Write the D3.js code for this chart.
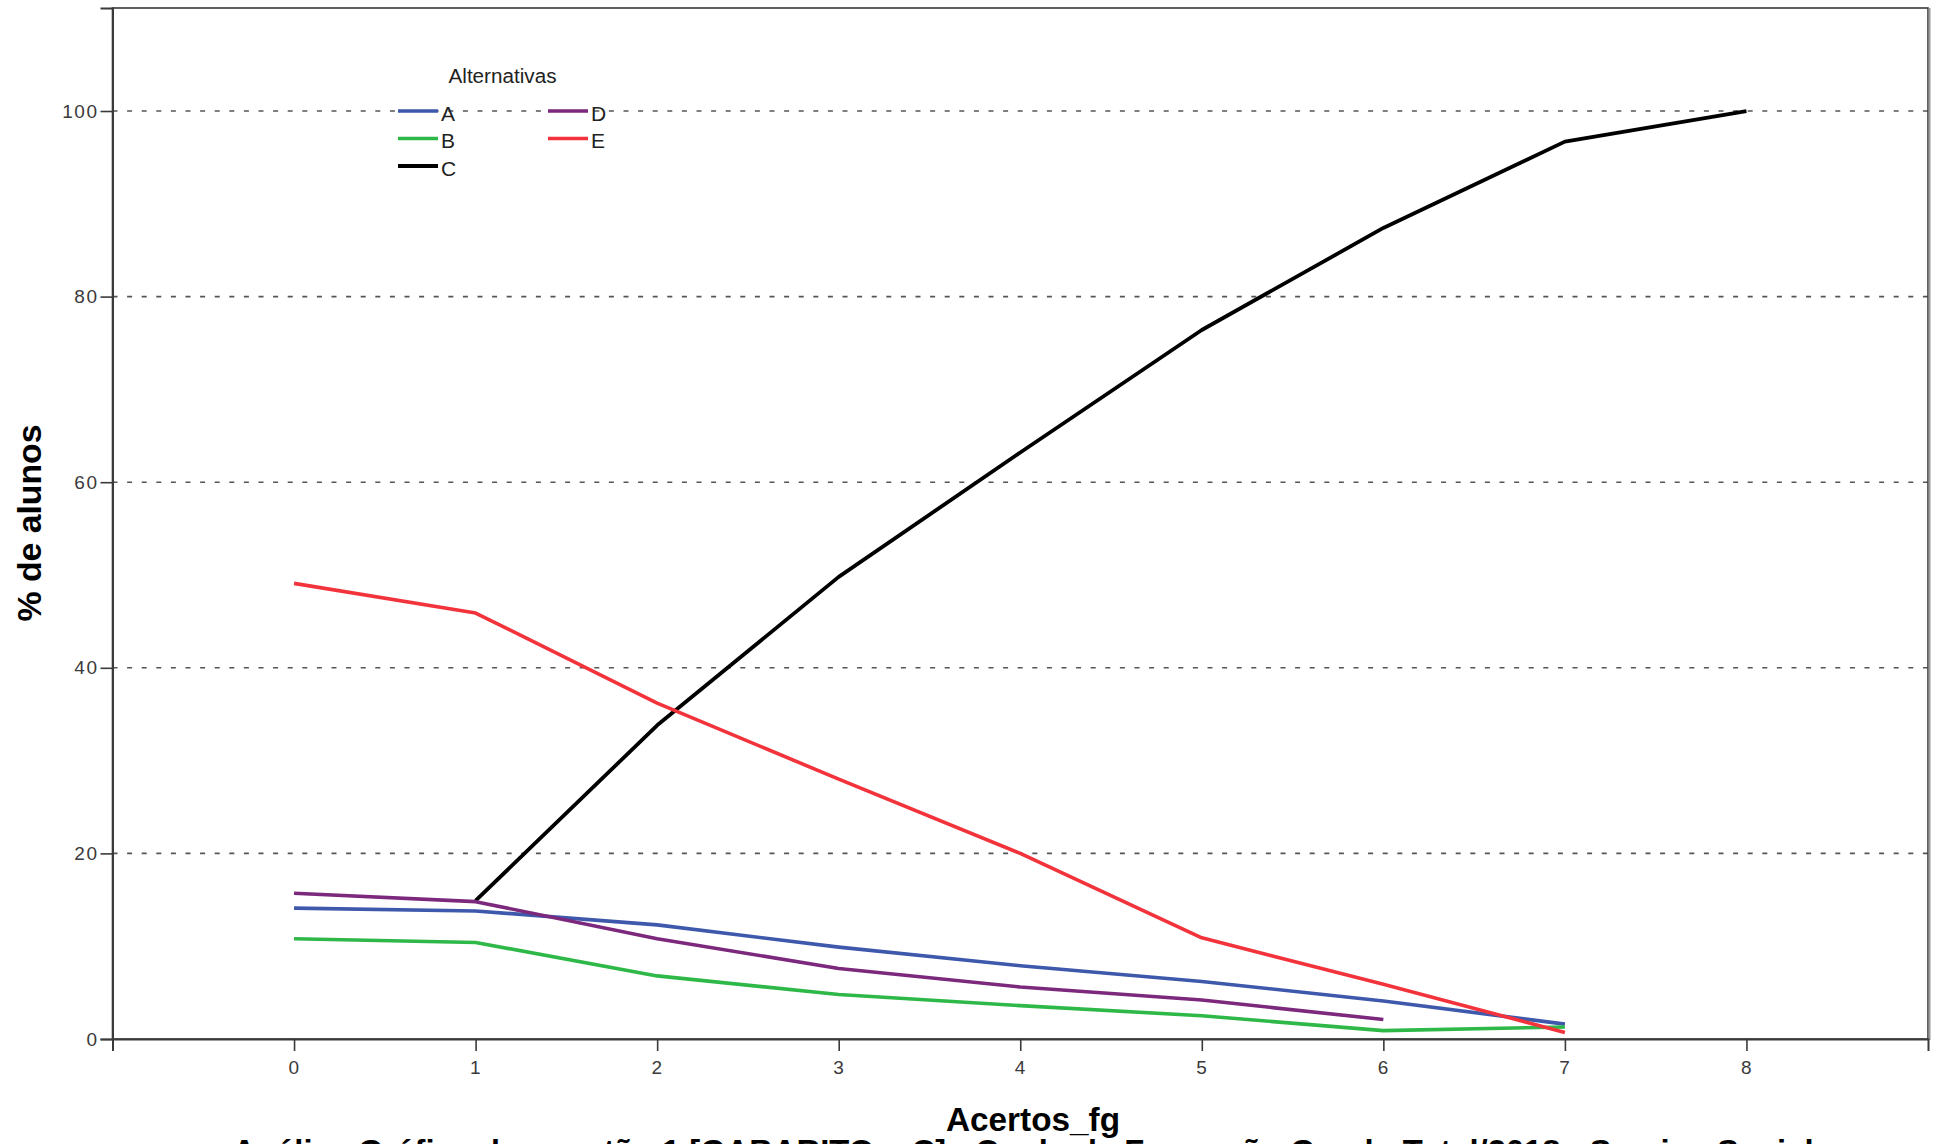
<!DOCTYPE html>
<html>
<head>
<meta charset="utf-8">
<script src="https://cdn.jsdelivr.net/npm/d3@7"></script>
<style>
  html, body { margin: 0; padding: 0; background: #fff; overflow: hidden; }
  svg { display: block; }
</style>
</head>
<body>
<svg id="chart" width="1942" height="1144"></svg>
<script>
// ---- data ----
const xTicks = [0, 1, 2, 3, 4, 5, 6, 7, 8];
const yTicks = [0, 20, 40, 60, 80, 100];
const gridValues = [20, 40, 60, 80, 100];

const xA = [0, 1, 2, 3, 4, 5, 6, 7];
const valuesA = [14.1, 13.8, 12.3, 9.9, 7.9, 6.2, 4.1, 1.6];
const xB = [0, 1, 2, 3, 4, 5, 6, 7];
const valuesB = [10.8, 10.4, 6.8, 4.8, 3.6, 2.5, 0.9, 1.3];
const xC = [1, 2, 3, 4, 5, 6, 7, 8];
const valuesC = [14.9, 33.8, 49.8, 63.2, 76.4, 87.4, 96.7, 100];
const xD = [0, 1, 2, 3, 4, 5, 6];
const valuesD = [15.7, 14.8, 10.8, 7.6, 5.6, 4.2, 2.1];
const xE = [0, 1, 2, 3, 4, 5, 6, 7];
const valuesE = [49.1, 45.9, 36.2, 28.0, 20.0, 10.9, 5.9, 0.7];

const seriesNames = ["A", "B", "C", "D", "E"];
const seriesColors = ["#3e58ac", "#2eb848", "#000000", "#7c287d", "#f2333b"];

const legendTitle = "Alternativas";
const xTitle = "Acertos_fg";
const yTitle = "% de alunos";
const bottomTitle = "Análise Gráfica da questão 1 [GABARITO = C] - Conh. de Formação Geral - Total/2018 - Serviço Social";

// ---- layout ----
const L = 112.5, R = 1928, T = 8, B = 1039;
const svg = d3.select("#chart");
const x = d3.scaleLinear().domain([-1, 9]).range([L, R]);
const y = d3.scaleLinear().domain([0, 111.1]).range([B, T]);

const series = [
  { name: seriesNames[0], xs: xA, vs: valuesA, color: seriesColors[0] },
  { name: seriesNames[1], xs: xB, vs: valuesB, color: seriesColors[1] },
  { name: seriesNames[2], xs: xC, vs: valuesC, color: seriesColors[2] },
  { name: seriesNames[3], xs: xD, vs: valuesD, color: seriesColors[3] },
  { name: seriesNames[4], xs: xE, vs: valuesE, color: seriesColors[4] }
];

// gridlines
svg.append("g").selectAll("line").data(gridValues).join("line")
  .attr("x1", L).attr("x2", R)
  .attr("y1", d => y(d)).attr("y2", d => y(d))
  .attr("stroke", "#555").attr("stroke-width", 1.6)
  .attr("stroke-dasharray", "5,9.6");

// frame
svg.append("rect").attr("x", L).attr("y", T).attr("width", R - L).attr("height", B - T)
  .attr("fill", "none").attr("stroke", "#3a3a3a").attr("stroke-width", 1.6);
svg.append("line").attr("x1", R + 1.5).attr("x2", R + 1.5).attr("y1", T).attr("y2", B + 1)
  .attr("stroke", "#999").attr("stroke-width", 2);

// axes
const fontTick = "'Liberation Sans', Arial, sans-serif";
const yAxis = svg.append("g").attr("transform", `translate(${L},0)`)
  .call(d3.axisLeft(y).tickValues(yTicks).tickSize(12).tickPadding(2).tickFormat(d3.format("d")));
const xAxis = svg.append("g").attr("transform", `translate(0,${B})`)
  .call(d3.axisBottom(x).tickValues(xTicks).tickSize(12).tickPadding(10).tickFormat(d3.format("d")));
[yAxis, xAxis].forEach(a => {
  a.select(".domain").attr("stroke", "#3a3a3a").attr("stroke-width", 2);
  a.selectAll(".tick line").attr("stroke", "#3a3a3a").attr("stroke-width", 1.6);
  a.selectAll(".tick text").attr("font-family", fontTick).attr("font-size", 19)
    .attr("letter-spacing", 1.5).attr("fill", "#3a3a3a");
});

// lines
const line = d3.line().x(d => x(d[0])).y(d => y(d[1])).curve(d3.curveLinear);
svg.append("g").selectAll("path").data(series).join("path")
  .attr("d", s => line(s.xs.map((xv, i) => [xv, s.vs[i]])))
  .attr("fill", "none")
  .attr("stroke", s => s.color)
  .attr("stroke-width", s => s.name === "C" ? 3.8 : 3.6)
  .attr("stroke-linejoin", "round");

// legend
const lg = svg.append("g");
lg.append("text").attr("x", 502.5).attr("y", 83).attr("text-anchor", "middle")
  .attr("font-family", fontTick).attr("font-size", 20).attr("fill", "#222")
  .attr("textLength", 108).attr("lengthAdjust", "spacingAndGlyphs")
  .text(legendTitle);
const legendPos = [
  { x: 398, y: 111 }, { x: 398, y: 138.5 }, { x: 398, y: 166 },
  { x: 548, y: 111 }, { x: 548, y: 138.5 }
];
series.forEach((s, i) => {
  const p = legendPos[i];
  lg.append("line").attr("x1", p.x).attr("x2", p.x + 40).attr("y1", p.y).attr("y2", p.y)
    .attr("stroke", s.color).attr("stroke-width", s.name === "C" ? 4 : 3.4);
  lg.append("text").attr("x", p.x + 43).attr("y", p.y + 9.5)
    .attr("font-family", fontTick).attr("font-size", 21).attr("fill", "#222")
    .text(s.name);
});

// titles
const fontTitle = "'Liberation Sans Narrow', 'Liberation Sans', Arial, sans-serif";
svg.append("text").attr("x", 1033).attr("y", 1131).attr("text-anchor", "middle")
  .attr("font-family", fontTitle).attr("font-weight", "bold").attr("font-size", 34)
  .attr("textLength", 174).attr("lengthAdjust", "spacingAndGlyphs")
  .attr("fill", "#000").text(xTitle);
svg.append("text").attr("transform", "translate(41,523) rotate(-90)").attr("text-anchor", "middle")
  .attr("font-family", fontTitle).attr("font-weight", "bold").attr("font-size", 34)
  .attr("textLength", 197).attr("lengthAdjust", "spacingAndGlyphs")
  .attr("fill", "#000").text(yTitle);
svg.append("text").attr("x", 1023).attr("y", 1163).attr("text-anchor", "middle")
  .attr("font-family", fontTitle).attr("font-weight", "bold").attr("font-size", 34)
  .attr("textLength", 1581).attr("lengthAdjust", "spacingAndGlyphs")
  .attr("fill", "#000").text(bottomTitle);
</script>
</body>
</html>
